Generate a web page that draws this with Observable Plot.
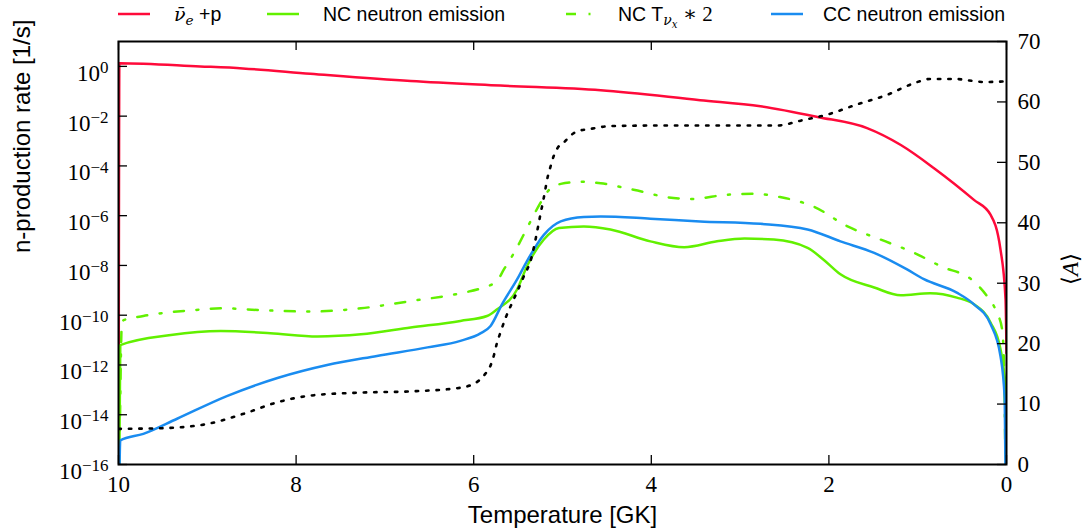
<!DOCTYPE html>
<html><head><meta charset="utf-8">
<script src="https://cdn.jsdelivr.net/npm/d3@7"></script>
<script src="https://cdn.jsdelivr.net/npm/@observablehq/plot@0.6"></script>
<style>
body{margin:0;background:#fff;}
#wrap{position:relative;width:1083px;height:532px;}
#legend{position:absolute;top:0;left:0;width:1083px;height:30px;font-family:'Liberation Sans',Arial,sans-serif;font-size:19.5px;color:#000;}
.sw{position:absolute;top:8px;}
.lt{position:absolute;top:0;line-height:28px;white-space:nowrap;}
.m{font-family:'DejaVu Serif',serif;font-style:italic;font-size:19px;}
.s{font-family:'Liberation Serif','DejaVu Serif',serif;font-size:21px;}
.sub{font-size:0.72em;vertical-align:-0.3em;line-height:0;}
#chart svg text.ser, #chart svg text.ser tspan{font-family:'Liberation Serif','DejaVu Serif',serif !important;}
#chart svg text.san{font-family:'Liberation Sans',Arial,sans-serif !important;}
</style></head><body>
<div id="wrap"><div id="chart"></div><div id="legend"></div></div>
<script>
// ---- data ----
const redT    = [10.0, 9.99, 9.08, 8.6, 7.84, 6.71, 5.70, 4.57, 3.45, 2.77, 2.13, 1.57, 1.19, 0.82, 0.37, 0.18, 0.068, 0.011, 0.0];
const redRate = [1e-20, 1.35, 1.0, 0.83, 0.51, 0.26, 0.17, 0.11, 0.044, 0.025, 9.3e-3, 3.3e-3, 6.9e-4, 8.3e-5, 4.4e-6, 1.1e-6, 4.4e-8, 4.4e-10, 3e-12];

const ncT    = [10.0, 9.98, 9.41, 8.85, 8.29, 7.76, 7.27, 6.71, 6.15, 5.85, 5.74, 5.51, 5.40, 5.21, 5.04, 4.76, 4.46, 4.01, 3.63, 3.26, 2.95, 2.62, 2.24, 2.06, 1.87, 1.49, 1.19, 0.86, 0.56, 0.37, 0.18, 0.068, 0.03, 0.01, 0.0];
const ncRate = [1e-20, 6.3e-12, 1.6e-11, 2.3e-11, 1.9e-11, 1.4e-11, 1.7e-11, 3.2e-11, 5.9e-11, 9.3e-11, 1.7e-10, 1.1e-9, 9.3e-9, 1.1e-7, 3.2e-7, 3.7e-7, 2.8e-7, 9.3e-8, 5.4e-8, 9.3e-8, 1.2e-7, 1.1e-7, 5.1e-8, 1.7e-8, 4.4e-9, 1.3e-9, 6.3e-10, 7.6e-10, 5.1e-10, 2.8e-10, 5.1e-11, 4.4e-12, 6.3e-13, 1e-13, 1e-20];

const nc2T    = [10.0, 9.96, 9.72, 9.15, 8.85, 8.40, 7.84, 7.27, 6.71, 6.15, 5.89, 5.74, 5.66, 5.55, 5.36, 5.25, 5.15, 5.02, 4.78, 4.57, 4.20, 3.75, 3.56, 3.15, 2.85, 2.55, 2.17, 1.79, 1.42, 1.04, 0.74, 0.37, 0.22, 0.11, 0.05, 0.03, 0.0];
const nc2Rate = [1e-20, 5.9e-11, 9.3e-11, 1.6e-10, 1.9e-10, 1.6e-10, 1.4e-10, 1.9e-10, 3.7e-10, 7.6e-10, 1.3e-9, 2.3e-9, 6.9e-9, 3.0e-8, 5.9e-7, 3.2e-6, 1.1e-5, 1.9e-5, 2.3e-5, 2.0e-5, 1.1e-5, 5.1e-6, 4.7e-6, 6.9e-6, 7.6e-6, 5.6e-6, 2.3e-6, 3.7e-7, 1.1e-7, 3.2e-8, 9.3e-9, 2.3e-9, 5.9e-10, 1.3e-10, 2.8e-11, 1.7e-12, 1e-20];

const ccT    = [10.0, 9.98, 9.72, 9.34, 8.78, 8.21, 7.65, 7.09, 6.52, 6.15, 5.92, 5.81, 5.68, 5.51, 5.40, 5.21, 5.02, 4.76, 4.57, 4.01, 3.45, 2.77, 2.24, 1.87, 1.49, 1.12, 0.93, 0.56, 0.37, 0.18, 0.068, 0.02, 0.0];
const ccRate = [1e-20, 9.3e-16, 1.7e-15, 6.9e-15, 5.6e-14, 3.0e-13, 1.0e-12, 2.3e-12, 5.1e-12, 9.3e-12, 1.9e-11, 3.7e-11, 2.8e-10, 2.8e-9, 1.5e-8, 1.7e-7, 5.9e-7, 8.9e-7, 9.3e-7, 7.6e-7, 5.9e-7, 4.7e-7, 2.8e-7, 9.3e-8, 3.2e-8, 6.9e-9, 2.8e-9, 8.1e-10, 2.8e-10, 4.4e-11, 2.3e-12, 4.4e-14, 1e-20];

const aT   = [10.0, 9.53, 9.04, 8.59, 8.21, 7.84, 7.27, 6.71, 6.15, 5.94, 5.87, 5.81, 5.77, 5.74, 5.70, 5.64, 5.55, 5.44, 5.35, 5.30, 5.255, 5.21, 5.165, 5.135, 5.10, 5.05, 4.99, 4.92, 4.82, 4.70, 4.46, 3.86, 3.18, 2.58, 2.32, 2.02, 1.68, 1.34, 1.04, 0.86, 0.59, 0.25, 0.0];
const aVal = [5.9, 6.0, 6.6, 8.4, 10.3, 11.4, 11.9, 12.1, 12.7, 13.9, 15.0, 16.4, 18.2, 20.0, 21.8, 24.3, 27.3, 31.0, 34.2, 37.5, 40.9, 44.2, 47.7, 49.3, 51.0, 52.5, 53.2, 54.3, 55.2, 55.5, 56.0, 56.1, 56.1, 56.1, 56.9, 57.9, 59.6, 61.2, 63.1, 63.8, 63.8, 63.3, 63.4];

const xTicks = [10, 8, 6, 4, 2, 0];
const yExponents = [-16, -14, -12, -10, -8, -6, -4, -2, 0];
const aTicks = [0, 10, 20, 30, 40, 50, 60, 70];

// ---- styles ----
const C = {red: "#ff0a3a", nc: "#62f000", nc2: "#62f000", cc: "#1a8cf0"};
const dashDot = "10,12.5,2,12.5";
const serif = "'Liberation Serif','DejaVu Serif',serif";
const sans = "'Liberation Sans',Arial,sans-serif";

const yMin = 1e-16, yMax = 10, aMax = 70;
const decades = Math.log10(yMax) - Math.log10(yMin);
const aToY = A => Math.pow(10, Math.log10(yMin) + A * decades / aMax);
const yToA = v => (Math.log10(v) - Math.log10(yMin)) * aMax / decades;

const zip = (T, V) => T.map((t, i) => ({T: t, v: V[i]}));
const redData = zip(redT, redRate);
const ncData = zip(ncT, ncRate);
const nc2Data = zip(nc2T, nc2Rate);
const ccData = zip(ccT, ccRate);
const aData = aT.map((t, i) => ({T: t, A: aVal[i]}));

const W = 1083, H = 532, mL = 118, mR = 77, mT = 41, mB = 68;
const fw = W - mL - mR, fh = H - mT - mB, tk = 9;
const yTickVals = yExponents.map(e => Math.pow(10, e));
const aTickVals = aTicks.map(aToY);

const plot = Plot.plot({
  width: W, height: H,
  marginLeft: mL, marginRight: mR, marginTop: mT, marginBottom: mB,
  style: {background: "#fff", overflow: "visible", fontFamily: serif},
  x: {domain: [10, 0]},
  y: {type: "log", domain: [yMin, yMax]},
  marks: [
    Plot.line(redData, {x: "T", y: "v", stroke: C.red, strokeWidth: 2.5, curve: "monotone-x", clip: true}),
    Plot.line(ncData, {x: "T", y: "v", stroke: C.nc, strokeWidth: 2.5, curve: "monotone-x", clip: true}),
    Plot.line(nc2Data, {x: "T", y: "v", stroke: C.nc2, strokeWidth: 2.5, strokeDasharray: dashDot, curve: "monotone-x", clip: true}),
    Plot.line(ccData, {x: "T", y: "v", stroke: C.cc, strokeWidth: 2.5, curve: "monotone-x", clip: true}),
    Plot.line(aData, {x: "T", y: d => aToY(d.A), stroke: "#000", strokeWidth: 2.6, strokeDasharray: "2.4,8", curve: "monotone-x", clip: true}),
    Plot.tickY(yTickVals, {y: d => d, insetRight: fw - tk, stroke: "#000", strokeWidth: 1.3}),
    Plot.tickY(aTickVals, {y: d => d, insetLeft: fw - tk, stroke: "#000", strokeWidth: 1.3}),
    Plot.tickX(xTicks, {x: d => d, insetTop: fh - tk, stroke: "#000", strokeWidth: 1.3}),
    Plot.tickX(xTicks, {x: d => d, insetBottom: fh - tk, stroke: "#000", strokeWidth: 1.3}),
    Plot.frame({stroke: "#000", strokeWidth: 2}),
    Plot.axisY(yTickVals, {anchor: "left", tickSize: 0, tickPadding: 10, dy: 7, label: null,
      tickFormat: d => "10^" + Math.round(Math.log10(d)), fontSize: 23}),
    Plot.axisY(aTickVals, {anchor: "right", tickSize: 0, tickPadding: 11, label: null,
      tickFormat: v => String(Math.round(yToA(v))), fontSize: 23}),
    Plot.axisX(xTicks, {anchor: "bottom", tickSize: 0, tickPadding: 11, label: null,
      tickFormat: d => String(d), fontSize: 23}),
    Plot.text(["n-production rate [1/s]"], {frameAnchor: "left", dx: -96, rotate: -90, lineAnchor: "middle", fontSize: 24, fill: "#000"}),
    Plot.text(["Temperature [GK]"], {frameAnchor: "bottom", dy: 51, lineAnchor: "middle", fontSize: 24, fill: "#000"}),
    Plot.text(["\u27E8A\u27E9"], {frameAnchor: "right", dx: 64, rotate: -90, lineAnchor: "middle", fontSize: 23, fill: "#000"})
  ]
});

const root = d3.select(plot);
root.attr("font-family", serif);
// fonts: serif (math) for tick labels and <A>, sans for axis titles
root.selectAll("text").each(function() {
  const t = this.textContent;
  const sel = d3.select(this);
  if (t === "n-production rate [1/s]" || t === "Temperature [GK]") {
    sel.classed("san", true).attr("font-family", sans);
    return;
  }
  sel.classed("ser", true).attr("font-family", serif);
  if (t === "\u27E8A\u27E9") {
    sel.text(null);
    sel.append("tspan").text("\u27E8");
    sel.append("tspan").style("font-style", "italic").text("A");
    sel.append("tspan").text("\u27E9");
  }
  if (/^10\^/.test(t)) {
    const e = t.slice(3).replace("-", "\u2212");
    sel.text(null);
    sel.append("tspan").text("10");
    sel.append("tspan").attr("dy", "-0.45em").attr("font-size", "17px").text(e);
  }
});
document.getElementById("chart").appendChild(plot);

// ---- legend ----
const legendItems = [
  {key: "red", x: 118, tx: 174, html: '<span class="m">\u03BD\u0304<span class="sub">e</span></span> +p'},
  {key: "nc", x: 267, tx: 323, html: 'NC neutron emission'},
  {key: "nc2", x: 566, tx: 618, html: 'NC T<span class="sub m">\u03BD<span class="sub">x</span></span> <span class="s">\u2217 2</span>', dash: dashDot},
  {key: "cc", x: 771, tx: 823, html: 'CC neutron emission'}
];
const leg = document.getElementById("legend");
legendItems.forEach(it => {
  const sw = document.createElementNS("http://www.w3.org/2000/svg", "svg");
  sw.setAttribute("class", "sw");
  sw.setAttribute("width", 32); sw.setAttribute("height", 12);
  sw.style.left = it.x + "px";
  sw.innerHTML = `<line x1="0" y1="6" x2="32" y2="6" stroke="${C[it.key]}" stroke-width="2.5" ${it.dash ? `stroke-dasharray="${it.dash}"` : ""}/>`;
  leg.appendChild(sw);
  const tx = document.createElement("div");
  tx.className = "lt";
  tx.style.left = it.tx + "px";
  tx.innerHTML = it.html;
  leg.appendChild(tx);
});
</script></body></html>
